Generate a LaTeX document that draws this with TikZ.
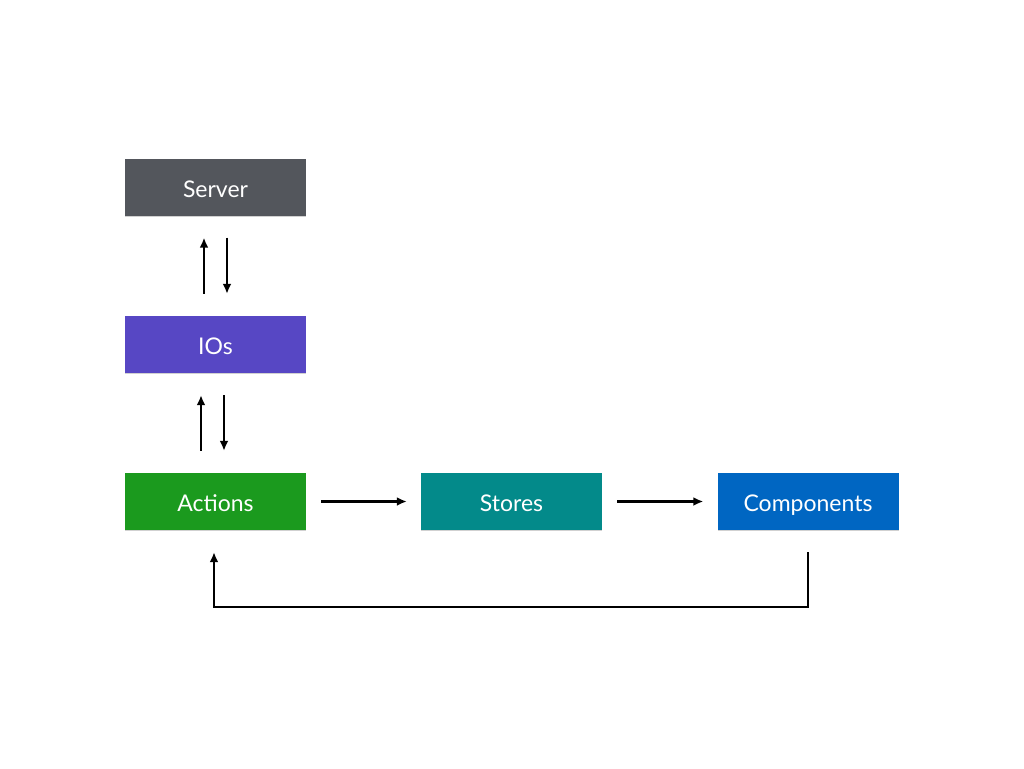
\documentclass[tikz,border=0pt]{standalone}
\usepackage{fontspec}
\setmainfont{Lato}
\usetikzlibrary{arrows.meta,shadows,calc}
\definecolor{srvC}{HTML}{53565C}
\definecolor{ioC}{HTML}{5747C4}
\definecolor{actC}{HTML}{1B9A1E}
\definecolor{stoC}{HTML}{038A8A}
\definecolor{cmpC}{HTML}{0066C2}
\begin{document}
\begin{tikzpicture}[x=1pt,y=-1pt,
  box/.style={minimum width=181pt,minimum height=57pt,inner sep=0pt,text=white,
    text height=21pt,text depth=1pt,
    font=\fontsize{23}{27}\selectfont,
    drop shadow={shadow xshift=0pt,shadow yshift=-1.2pt,opacity=0.18,fill=black}},
  conn/.style={line width=2.3pt,-{Latex[length=10pt,width=9pt]}}]
\useasboundingbox[fill=white] (0,0) rectangle (1024,768);
\node[box,fill=srvC] (server) at (215.5,187) {Server};
\node[box,fill=ioC] (ios) at (215.5,344.5) {IOs};
\node[box,fill=actC] (actions) at (215.5,501.5) {Actions};
\node[box,fill=stoC] (stores) at (511.5,501.5) {Stores};
\node[box,fill=cmpC] (components) at (808,501.5) {Components};
% server <-> ios
\draw[conn] ($(ios.north)+(-11.5,-22)$) -- ($(server.south)+(-11.5,22)$);
\draw[conn] ($(server.south)+(11.5,22)$) -- ($(ios.north)+(11.5,-22)$);
% ios <-> actions
\draw[conn] ($(actions.north)+(-14.5,-22)$) -- ($(ios.south)+(-14.5,22)$);
\draw[conn] ($(ios.south)+(8.5,22)$) -- ($(actions.north)+(8.5,-22)$);
% horizontal flow
\draw[conn] ($(actions.east)+(15,0)$) -- ($(stores.west)+(-14,0)$);
\draw[conn] ($(stores.east)+(15,0)$) -- ($(components.west)+(-14,0)$);
% feedback loop
\coordinate (loopA) at ($(components.south)+(0,22)$);
\coordinate (loopB) at ($(actions.south)+(-1.5,22)$);
\draw[conn] (loopA) -- ++(0,55) -| (loopB);
\end{tikzpicture}
\end{document}
